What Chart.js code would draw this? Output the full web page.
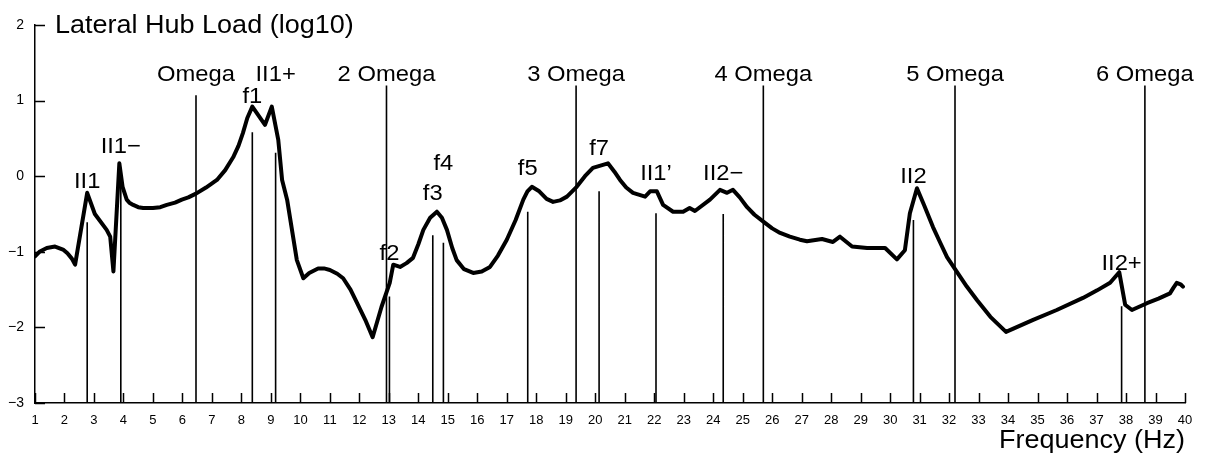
<!DOCTYPE html>
<html>
<head>
<meta charset="utf-8">
<script src="https://cdn.jsdelivr.net/npm/chart.js@4"></script>
<style>
  html, body { margin: 0; padding: 0; background: #fff; }
  #wrap { width: 1213px; height: 460px; position: relative; }
</style>
</head>
<body>
<div id="wrap"><canvas id="chart"></canvas></div>
<script>
// Lateral hub load spectrum (log10) versus frequency
const frequency = [
  1.00, 1.15, 1.40, 1.68, 1.95, 2.10, 2.25, 2.36, 2.77, 3.03, 3.43, 3.55, 3.66, 3.86, 3.97, 4.11,
  4.20, 4.33, 4.50, 4.67, 5.00, 5.25, 5.47, 5.75, 5.98, 6.20, 6.46, 6.80, 7.17, 7.45, 7.72, 7.90,
  8.05, 8.20, 8.37, 8.80, 9.03, 9.25, 9.38, 9.55, 9.88, 10.10, 10.30, 10.60, 10.80, 11.00, 11.25,
  11.45, 11.70, 11.90, 12.20, 12.45, 12.75, 13.03, 13.15, 13.38, 13.60, 13.82, 14.00, 14.17,
  14.40, 14.63, 14.80, 14.97, 15.15, 15.30, 15.55, 15.86, 16.15, 16.43, 16.70, 17.00, 17.30,
  17.56, 17.70, 17.85, 18.10, 18.35, 18.57, 18.80, 19.04, 19.37, 19.65, 19.92, 20.26, 20.43,
  20.65, 20.84, 21.05, 21.28, 21.69, 21.86, 22.09, 22.30, 22.64, 22.98, 23.20, 23.38, 23.89,
  24.23, 24.47, 24.67, 24.90, 25.15, 25.40, 25.70, 26.00, 26.27, 26.60, 26.94, 27.18, 27.69,
  28.06, 28.30, 28.71, 29.22, 29.83, 30.23, 30.50, 30.67, 30.91, 31.15, 31.45, 31.70, 31.93,
  32.27, 32.60, 32.95, 33.40, 33.93, 34.85, 35.65, 36.54, 37.02, 37.46, 37.77, 37.97, 38.20,
  38.71, 39.10, 39.49, 39.60, 39.72, 39.85, 39.93
];
const hubLoad = [
  -1.06, -1.00, -0.95, -0.93, -0.97, -1.02, -1.09, -1.17, -0.22, -0.50, -0.71, -0.80, -1.26, 0.17, -0.14, -0.31,
  -0.35, -0.38, -0.41, -0.42, -0.42, -0.41, -0.38, -0.35, -0.31, -0.28, -0.23, -0.15, -0.05, 0.08, 0.25, 0.40,
  0.57, 0.77, 0.92, 0.68, 0.92, 0.48, -0.05, -0.31, -1.11, -1.35, -1.28, -1.22, -1.22, -1.24, -1.29,
  -1.35, -1.50, -1.66, -1.90, -2.13, -1.73, -1.41, -1.17, -1.20, -1.15, -1.08, -0.90, -0.71,
  -0.55, -0.47, -0.55, -0.71, -0.95, -1.11, -1.23, -1.28, -1.26, -1.20, -1.05, -0.84, -0.58,
  -0.31, -0.20, -0.14, -0.20, -0.30, -0.34, -0.32, -0.27, -0.14, 0.00, 0.11, 0.15, 0.17,
  0.06, -0.05, -0.15, -0.22, -0.27, -0.20, -0.20, -0.38, -0.47, -0.47, -0.42, -0.46, -0.31,
  -0.18, -0.22, -0.18, -0.28, -0.41, -0.51, -0.60, -0.69, -0.75, -0.80, -0.84, -0.86, -0.83,
  -0.87, -0.80, -0.93, -0.95, -0.95, -1.10, -0.98, -0.49, -0.16, -0.38, -0.67, -0.88, -1.07,
  -1.27, -1.46, -1.64, -1.86, -2.06, -1.90, -1.77, -1.61, -1.51, -1.41, -1.27, -1.70, -1.77,
  -1.68, -1.62, -1.55, -1.48, -1.41, -1.43, -1.46
];

// Rotor harmonics (multiples of Omega)
const harmonicNames = ['Omega', '2 Omega', '3 Omega', '4 Omega', '5 Omega', '6 Omega'];
const harmonicFreq  = [6.46, 12.92, 19.35, 25.70, 32.20, 38.64];
const harmonicTop   = [1.07, 1.20, 1.20, 1.20, 1.20, 1.20];

// Identified modes
const modeNames = ['II1', 'II1\u2212', 'f1', 'II1+', 'f2', 'f3', 'f4', 'f5', 'f7', 'II1\u2019', 'II2\u2212', 'II2', 'II2+'];
const modeFreq  = [2.77, 3.91, 8.37, 9.16, 13.02, 14.49, 14.85, 17.71, 20.13, 22.06, 24.34, 30.79, 37.85];
const modeTop   = [-0.61, 0.10, 0.58, 0.31, -1.59, -0.78, -0.88, -0.47, -0.20, -0.49, -0.50, -0.58, -1.72];

// Axis ticks
const xTicks = Array.from({length: 40}, (_, i) => i + 1);
const yTicks = [-3, -2, -1, 0, 1, 2];

// Baseline heights (in log10 units) for the annotation text
const harmonicLabelLevel = [1.26, 1.26, 1.26, 1.26, 1.26, 1.26];
const modeLabelLevel = [-0.16, 0.31, 0.97, 1.26, -1.11, -0.31, 0.08, 0.02, 0.28, -0.05, -0.05, -0.09, -1.24];

const FONT = '"Liberation Sans", Arial, Helvetica, sans-serif';
const STRETCH = 1.08;
const Y_MIN = -3;

function stickSeries(freqs, tops) {
  const pts = [];
  freqs.forEach((f, i) => {
    pts.push({x: f, y: Y_MIN});
    pts.push({x: f, y: tops[i]});
    pts.push({x: f, y: null});
  });
  return pts;
}

const annotate = {
  id: 'annotate',
  afterDraw(chart) {
    const {ctx, chartArea: a, scales: {x, y}} = chart;
    ctx.save();
    ctx.strokeStyle = '#000';
    ctx.lineWidth = 1.5;
    // inward tick marks
    ctx.beginPath();
    xTicks.forEach(v => {
      const px = Math.round(x.getPixelForValue(v)) + 0.5;
      ctx.moveTo(px, a.bottom);
      ctx.lineTo(px, a.bottom - 10);
    });
    yTicks.forEach(v => {
      const py = Math.round(y.getPixelForValue(v)) + 0.5;
      ctx.moveTo(a.left, py);
      ctx.lineTo(a.left + 10, py);
    });
    ctx.stroke();

    ctx.fillStyle = '#000';
    const text = (s, px, py, size, align) => {
      ctx.save();
      ctx.font = size + 'px ' + FONT;
      ctx.textAlign = align;
      ctx.textBaseline = 'alphabetic';
      ctx.translate(px, py);
      ctx.scale(STRETCH, 1);
      ctx.fillText(s, 0, 0);
      ctx.restore();
    };
    harmonicNames.forEach((s, i) => {
      text(s, x.getPixelForValue(harmonicFreq[i]), y.getPixelForValue(harmonicLabelLevel[i]), 22, 'center');
    });
    modeNames.forEach((s, i) => {
      text(s, x.getPixelForValue(modeFreq[i]), y.getPixelForValue(modeLabelLevel[i]), 22, 'center');
    });
    // axis titles
    text('Lateral Hub Load (log10)', a.left + 20, a.top + 8, 25, 'left');
    text('Frequency (Hz)', a.right, a.bottom + 45, 25, 'right');
    ctx.restore();
  }
};

new Chart(document.getElementById('chart'), {
  type: 'line',
  data: {
    datasets: [
      {
        data: stickSeries(harmonicFreq, harmonicTop),
        borderColor: '#000', borderWidth: 1.6, pointRadius: 0, spanGaps: false, tension: 0
      },
      {
        data: stickSeries(modeFreq, modeTop),
        borderColor: '#000', borderWidth: 1.6, pointRadius: 0, spanGaps: false, tension: 0
      },
      {
        data: frequency.map((f, i) => ({x: f, y: hubLoad[i]})),
        borderColor: '#000', borderWidth: 4, pointRadius: 0, tension: 0,
        borderJoinStyle: 'round', borderCapStyle: 'round'
      }
    ]
  },
  options: {
    responsive: true,
    maintainAspectRatio: false,
    animation: false,
    events: [],
    layout: { padding: { left: 0, right: 28, top: 25, bottom: 0 } },
    plugins: { legend: { display: false }, tooltip: { enabled: false }, title: { display: false } },
    scales: {
      x: {
        type: 'linear', min: 1, max: 40,
        grid: { display: false, drawTicks: false },
        border: { display: true, color: '#000', width: 1.5 },
        afterBuildTicks: s => { s.ticks = xTicks.map(v => ({value: v})); },
        afterFit: s => { s.height = 57; },
        ticks: {
          autoSkip: false, maxRotation: 0, minRotation: 0, padding: 10,
          color: '#000', font: { family: FONT, size: 13 }
        }
      },
      y: {
        type: 'linear', min: -3, max: 2,
        grid: { display: false, drawTicks: false },
        border: { display: true, color: '#000', width: 1.5 },
        afterBuildTicks: s => { s.ticks = yTicks.map(v => ({value: v})); },
        afterFit: s => { s.width = 35; },
        ticks: {
          padding: 11, color: '#000', font: { family: FONT, size: 14 },
          callback: v => (v < 0 ? '\u2212' + Math.abs(v) : String(v))
        }
      }
    }
  },
  plugins: [annotate]
});
</script>
</body>
</html>
